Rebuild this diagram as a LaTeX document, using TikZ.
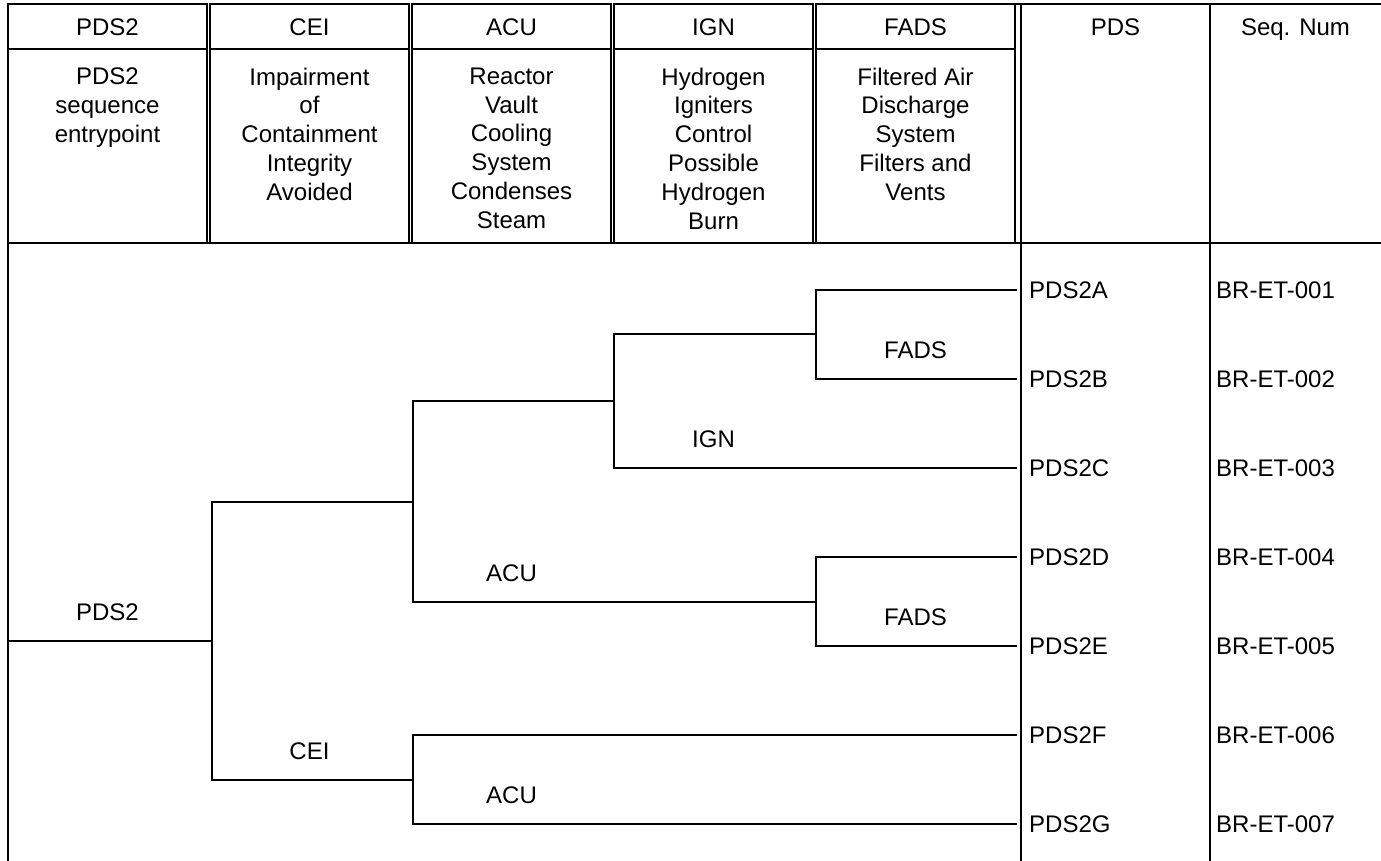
\documentclass[tikz,border=0pt]{standalone}
\usepackage{fontspec}
\setmainfont{Liberation Sans}
\usetikzlibrary{positioning, calc}

\tikzset{
  rule/.style={line width=1.6pt},
  branch/.style={line width=1.6pt},
  hdr/.style={font=\fontsize{24}{28.8}\selectfont, inner sep=0pt, anchor=base},
  desc/.style={font=\fontsize{24}{28.8}\selectfont, inner sep=0pt, align=center, anchor=north},
  brlbl/.style={font=\fontsize{24}{28.8}\selectfont, inner sep=0pt, anchor=base},
  endlbl/.style={font=\fontsize{24}{28.8}\selectfont, inner sep=0pt, anchor=base west},
}

\begin{document}
\begin{tikzpicture}[x=1pt, y=-1pt]
  \useasboundingbox (0,0) rectangle (1381,861);
  % Event headings
  \foreach \i/\ttl/\txt in {0/PDS2/{PDS2\\sequence\\entrypoint},
      1/CEI/{Impairment\\of\\Containment\\Integrity\\Avoided},
      2/ACU/{Reactor\\Vault\\Cooling\\System\\Condenses\\Steam},
      3/IGN/{Hydrogen\\Igniters\\Control\\Possible\\Hydrogen\\Burn},
      4/FADS/{Filtered Air\\Discharge\\System\\Filters and\\Vents}} {
    \draw[rule] (8+202*\i,4) rectangle (207+202*\i,243);
    \draw[rule] (8+202*\i,49) -- (207+202*\i,49);
    \node[hdr] (h\i) at (107.5+202*\i,35.5) {\ttl};
    \node[desc] (d\i) at (107.5+202*\i,67.5) {\txt};
  }
  % Result columns
  \draw[rule] (1015,4) -- (1381,4);
  \draw[rule] (8,243) -- (1381,243);
  \draw[rule] (8,4) -- (8,861);
  \draw[rule] (1021,4) -- (1021,861);
  \draw[rule] (1210,4) -- (1210,861);
  \node[hdr] (hpds) at (1115.5,35.5) {PDS};
  \node[hdr] (hseq) at (1295.5,35.5) {Seq. Num};
  % End states
  \foreach \s/\n/\y in {A/001/290, B/002/379, C/003/468, D/004/557,
                        E/005/646, F/006/735, G/007/824} {
    \coordinate (e\s) at (1017,\y);
    \node[endlbl] (p\s) at (1029,\y+8.5) {PDS2\s};
    \node[endlbl] (q\s) at (1216,\y+8.5) {BR-ET-\n};
  }
  % Branch points
  \coordinate (start) at (8,641);
  \coordinate (j0) at (212,641);
  \coordinate (j1) at (413,502);
  \coordinate (j2) at (614,401);
  \coordinate (j3) at (816,334);
  \coordinate (j4) at (816,602);
  \coordinate (j5) at (413,780);
  % Tree
  \draw[branch] (start) -- (j0);
  \draw[branch] (j1) -| (j0) |- (j5);
  \draw[branch] (j2) -| (j1) |- (j4);
  \draw[branch] (j3) -| (j2) |- (eC);
  \draw[branch] (eA) -| (j3) |- (eB);
  \draw[branch] (eD) -| (j4) |- (eE);
  \draw[branch] (eF) -| (j5) |- (eG);
  % Branch labels
  \node[brlbl] (lpds) at (107.5,620.5) {PDS2};
  \node[brlbl] (lcei) at (309.5,759.5) {CEI};
  \node[brlbl] (lacua) at (511.5,581.5) {ACU};
  \node[brlbl] (lacub) at (511.5,803.5) {ACU};
  \node[brlbl] (lign) at (713.5,447.5) {IGN};
  \node[brlbl] (lfadsa) at (915.5,358.5) {FADS};
  \node[brlbl] (lfadsb) at (915.5,625.5) {FADS};
\end{tikzpicture}
\end{document}
